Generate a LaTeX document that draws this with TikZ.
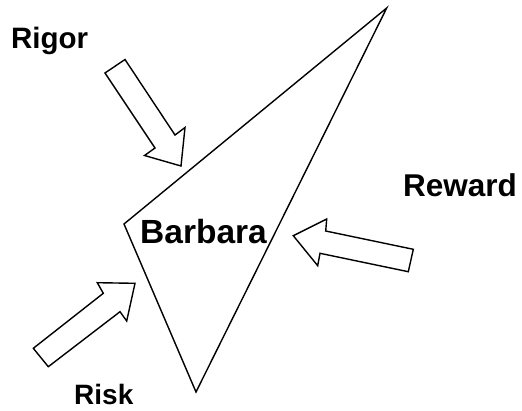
\documentclass[tikz,border=0pt]{standalone}
\usepackage{fontspec}
\setmainfont{Liberation Sans}
\begin{document}
\begin{tikzpicture}[x=1pt,y=-1pt,
  outl/.style={draw=black,line width=1.4pt,line join=miter,fill=white},
  lbl/.style={font=\bfseries,inner sep=0pt,anchor=base west}]
\useasboundingbox (0,0) rectangle (522,410);
% triangle
\draw[outl] (386.7,8) -- (124,224) -- (196,392) -- cycle;
% Rigor arrow
\draw[outl] (105,73) -- (125,59.5) -- (175,135) -- (185,127.5) -- (181,166) -- (144.5,155.5) -- (155,148) -- cycle;
% Reward arrow
\draw[outl] (293.3,235.7) -- (326.7,219) -- (325.7,231) -- (413.3,249.3) -- (408.3,271.7) -- (320,253.3) -- (317.7,265.7) -- cycle;
% Risk arrow
\draw[outl] (33.3,348.3) -- (48.3,366.7) -- (120,311.7) -- (126.7,321) -- (135,283.3) -- (97.3,282.7) -- (103.3,293.3) -- cycle;
\node[lbl] (rigor) at (11,48) {\fontsize{29.5}{34}\selectfont Rigor};
\node[lbl] (reward) at (403,196.5) {\fontsize{31.5}{36}\selectfont Reward};
\node[lbl] (barbara) at (140,243.5) {\fontsize{33.5}{38}\selectfont Barbara};
\node[lbl] (risk) at (74,404) {\fontsize{28}{32}\selectfont Risk};
\end{tikzpicture}
\end{document}
